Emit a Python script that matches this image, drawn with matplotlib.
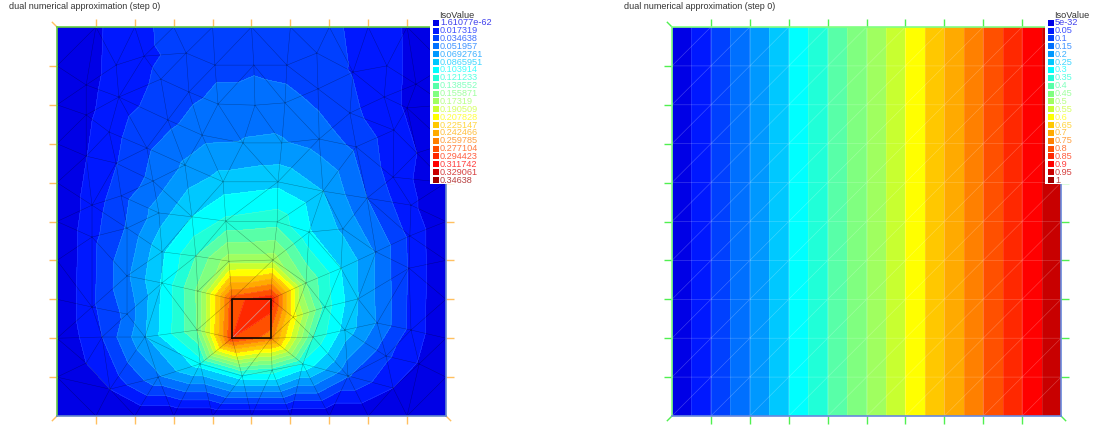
import numpy as np
import matplotlib
matplotlib.use("Agg")
import matplotlib.pyplot as plt
import matplotlib.tri as mtri
from matplotlib.patches import Rectangle

plt.rcParams['font.family'] = ['Liberation Sans', 'DejaVu Sans']

W, H = 1094, 428

title = "dual numerical approximation (step 0)"

# legend values, as printed
iso_left_labels = ["1.61077e-62", "0.017319", "0.034638", "0.051957", "0.0692761", "0.0865951", "0.103914",
                   "0.121233", "0.138552", "0.155871", "0.17319", "0.190509", "0.207828", "0.225147", "0.242466",
                   "0.259785", "0.277104", "0.294423", "0.311742", "0.329061", "0.34638"]
iso_right_labels = ["5e-32", "0.05", "0.1", "0.15", "0.2", "0.25", "0.3", "0.35", "0.4", "0.45", "0.5", "0.55",
                    "0.6", "0.65", "0.7", "0.75", "0.8", "0.85", "0.9", "0.95", "1"]
palette = ["#0000E6", "#0018FF", "#0040FF", "#0070FF", "#0098FF", "#00C8FF", "#00FFFF", "#20FFD8", "#58FFA8",
           "#80FF80", "#A0FF60", "#C8FF30", "#FFFF00", "#FFC800", "#FFAA00", "#FF8000", "#FF5000", "#FF2800",
           "#FF0000", "#C80000", "#A00000"]

# left mesh: interior nodes, u is given in iso steps
node_x = [.152, .224, .267, .332, .406, .339, .159, .075, .075, .285, .414, .373, .478, .231, .134, .152, .075, .329,
          .247, .427, .165, .090, .262, .347, .434,
          .506, .591, .668, .761, .848, .671, .586, .509, .753, .841, .923, .866, .900, .674, .578, .769, .925, .864,
          .568, .684, .797, .910,
          .180, .090, .270, .357, .442, .180, .270, .362, .090, .180, .360, .226, .116, .368, .476, .260, .136, .075,
          .566, .648, .735, .820, .907, .555, .730, .905, .640, .774, .689, .607, .740, .823, .910, .658, .632, .846,
          .931, .748, .553, .864]
node_y = [.902, .925, .866, .933, .902, .833, .820, .851, .774, .761, .802, .722, .702, .689, .730, .650, .668, .645,
          .604, .602, .566, .542, .522, .512, .501,
          .902, .902, .933, .884, .900, .841, .805, .799, .779, .820, .853, .735, .792, .712, .702, .692, .676, .614,
          .602, .578, .560, .542,
          .483, .460, .422, .411, .398, .360, .342, .321, .280, .262, .221, .203, .203, .134, .103, .100, .069, .136,
          .499, .473, .481, .422, .463, .401, .380, .380, .342, .301, .280, .254, .221, .239, .221, .203, .134, .154,
          .134, .103, .118, .072]
node_u = [1.3, 1.8, 2.2, 2.3, 2.75, 2.7, 1.5, .7, .8, 2.7, 3.3, 3.7, 4.05, 2.85, 1.55, 1.95, .97, 4.15,
          3.3, 5.4, 2.6, 1.5, 4.5, 6.0, 7.2,
          2.75, 2.6, 2.3, 1.95, 1.3, 2.6, 3.4, 3.7, 2.3, 1.3, .75, 1.35, .9, 3.5, 4.1, 2.8, 1.0, 1.6,
          5.7, 5.0, 3.0, 1.25,
          3.1, 1.7, 5.8, 8.0, 10.6, 3.8, 6.1, 9.2, 1.8, 3.3, 9.0, 4.9, 2.0, 6.5, 6.5, 3.8, 1.0, 1.0,
          7.6, 6.1, 4.8, 3.9, 1.8, 10.5, 6.0, 1.9, 9.0, 5.0, 7.5, 12.5, 5.6, 3.9, 1.7, 8.0, 6.8, 2.2,
          .9, 3.1, 7.5, 1.0]

# source square, corners BL, BR, TL, TR
square_x = [.45, .55, .45, .55]
square_y = [.2, .2, .3, .3]
square_u = [17.0, 15.5, 16.6, 17.8]

grid = [0, .1, .2, .3, .4, .5, .6, .7, .8, .9, 1]
top_u = [0, .85, 1.67, 2.35, 2.7, 2.85, 2.7, 2.2, 1.65, .9, 0]

iso_step = 0.017319


def draw_frame(ax, top_col, low_col, tick_col):
    for s in ['top', 'left']:
        ax.spines[s].set_color(top_col)
    for s in ['bottom', 'right']:
        ax.spines[s].set_color(low_col)
    for s in ax.spines.values():
        s.set_linewidth(1.2)
        s.set_zorder(4)
    ax.set_xlim(0, 1)
    ax.set_ylim(0, 1)
    ax.set_xticks(grid[1:-1])
    ax.set_yticks(grid[1:-1])
    ax.tick_params(top=True, right=True, labelbottom=False, labelleft=False, length=5.8, width=1, color=tick_col)
    # the corner ticks stand diagonally
    d = 0.012
    for cx, cy, sx, sy in [(0, 0, -1, -1), (0, 1, -1, 1), (1, 0, 1, -1)]:
        ax.plot([cx, cx + sx * d], [cy, cy + sy * d], color=tick_col, lw=1, clip_on=False, zorder=3)


def draw_legend(over, px, labels):
    over.add_patch(Rectangle((px - 3, 18), 44, 166, fc='white', ec='none', zorder=1))
    over.text(px + 6.5, 15, "IsoValue", fontsize=6.6, color='#333333', va='center', ha='left', zorder=3)
    for i, lab in enumerate(labels):
        yy = 22.7 + i * 7.87
        over.add_patch(Rectangle((px, yy - 3), 6, 6, fc=palette[i], ec='none', zorder=2))
        over.text(px + 7, yy, lab, fontsize=6.6, color=palette[i], alpha=0.75, va='center', ha='left', zorder=3)


fig = plt.figure(figsize=(W / 100, H / 100), dpi=100)
ax1 = fig.add_axes([57 / W, 1 - 416 / H, 389 / W, 389 / H])
ax2 = fig.add_axes([672 / W, 1 - 416 / H, 389 / W, 389 / H])

# left: field on the triangle mesh
bx = list(grid) + [0] * 10 + [1] * 10 + grid[1:-1]
by = [1] * 11 + grid[:-1] + grid[:-1] + [0] * 9
bu = list(top_u) + [0] * 29
all_x = np.array(node_x + square_x + bx)
all_y = np.array(node_y + square_y + by)
all_u = np.array(node_u + square_u + bu) * iso_step

# nudge the top right corner so that Delaunay picks the square's real diagonal
nudged_x = all_x.copy()
nudged_y = all_y.copy()
tr = len(node_x) + 3
nudged_x[tr] -= 0.001
nudged_y[tr] -= 0.001
tri_left = mtri.Triangulation(all_x, all_y, mtri.Triangulation(nudged_x, nudged_y).triangles)

levels_left = [-1] + [float(v) for v in iso_left_labels[1:]] + [1]
ax1.tricontourf(tri_left, all_u, levels=levels_left, colors=palette)
ax1.tricontour(tri_left, all_u, levels=levels_left[1:-1], colors='white', linewidths=0.3, alpha=0.2)
ax1.triplot(tri_left, color='black', lw=0.35, alpha=0.35)
sq = len(node_x)
ax1.plot([all_x[sq], all_x[sq + 3]], [all_y[sq], all_y[sq + 3]], color='white', lw=0.6, alpha=0.5)
ax1.plot(np.array(square_x)[[0, 1, 3, 2, 0]], np.array(square_y)[[0, 1, 3, 2, 0]], color='black', lw=1.3, alpha=0.85)
draw_frame(ax1, '#66CC44', '#6688CC', '#FFC060')

# right: u = x on the regular mesh
gx, gy = np.meshgrid(grid, grid)
tris = []
for j in range(10):
    for i in range(10):
        a = j * 11 + i
        tris.append([a, a + 1, a + 12])
        tris.append([a, a + 12, a + 11])
tri_right = mtri.Triangulation(gx.ravel(), gy.ravel(), tris)
levels_right = [-1] + [float(v) for v in iso_right_labels[1:]] + [2]
ax2.tricontourf(tri_right, gx.ravel(), levels=levels_right, colors=palette)
ax2.tricontour(tri_right, gx.ravel(), levels=levels_right[1:-2], colors='white', linewidths=0.4, alpha=0.2)
ax2.triplot(tri_right, color='white', lw=0.45, alpha=0.25)
draw_frame(ax2, '#80FF80', '#6688DD', '#50F050')

over = fig.add_axes([0, 0, 1, 1], zorder=5)
over.set_xlim(0, W)
over.set_ylim(H, 0)
over.axis('off')
draw_legend(over, 433, iso_left_labels)
draw_legend(over, 1048, iso_right_labels)
over.text(9, 6.5, title, fontsize=6.5, color='#333333', va='center', ha='left')
over.text(624, 6.5, title, fontsize=6.5, color='#333333', va='center', ha='left')

fig.savefig("out.png", dpi=100)
